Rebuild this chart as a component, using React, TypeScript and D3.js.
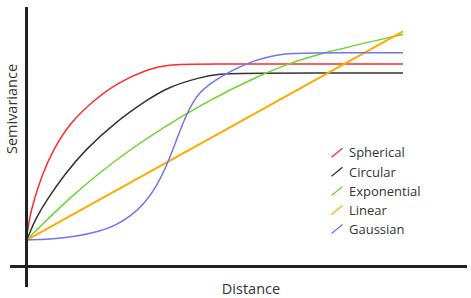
import React from "react";
import * as d3 from "d3";

type Pt = [number, number];

// distance (0–100) vs semivariance (0–100)
const spherical: Pt[] = [[0.2, 14], [0.6, 18.5], [1.86, 25.8], [3.99, 35.4], [6.91, 45], [11.44, 55.5], [17.82, 64.2], [23.94, 70.8], [32.71, 76.5], [38.03, 77.8], [42.55, 78.1], [100, 78.1]];
const circular: Pt[] = [[0, 10.4], [0.8, 13.5], [2.39, 18.8], [5.24, 25.8], [10.1, 35.8], [15.43, 45], [23.4, 55.6], [31.9, 64.2], [37.2, 69], [46, 73], [51.3, 74.3], [56.6, 74.6], [100, 74.6]];
const exponential: Pt[] = [[0, 10.4], [1, 12], [10.56, 25.8], [26.5, 45], [48.1, 64.2], [63.3, 74.6], [69.4, 78.1], [78.7, 82.4], [97.9, 88.8], [100, 89.4]];
const linear: Pt[] = [[0, 10.4], [100, 90.6]];
const gaussian: Pt[] = [[0, 10.4], [6.1, 10.7], [12.8, 11.6], [19.4, 13.7], [23.4, 15.9], [27.4, 19.4], [30.9, 23.9], [34, 29.9], [36.7, 37.5], [38.6, 44.4], [40.7, 52.5], [42.3, 58.1], [43.9, 62.9], [46, 67.3], [48.7, 70.4], [50.8, 72.5], [53.1, 74.4], [55.6, 76.3], [58.4, 78.1], [60.9, 79.5], [63.7, 80.7], [68.2, 81.9], [72.6, 82.4], [100, 82.4]];

const seriesNames = ["Spherical", "Circular", "Exponential", "Linear", "Gaussian"];
const seriesData = [spherical, circular, exponential, linear, gaussian];
const seriesColors = ["#ff2a2a", "#333333", "#6ad62a", "#ffaa00", "#7272f2"];
const seriesWidths = [1.5, 1.5, 1.5, 2, 1.5];

const xLabel = "Distance";
const yLabel = "Semivariance";

export default function App() {
  const W = 471, H = 298;
  const x = d3.scaleLinear().domain([0, 100]).range([27, 403]);
  const y = d3.scaleLinear().domain([0, 100]).range([267, 7]);
  const line = d3.line<Pt>().x(d => x(d[0])).y(d => y(d[1])).curve(d3.curveBasis);
  const font = "'Open Sans', 'Noto Sans', sans-serif";
  return (
    <svg width={W} height={H} style={{ position: "absolute", left: 0, top: 0 }} fontFamily={font}>
      <rect width={W} height={H} fill="#fff" />
      {seriesData.map((d, i) => (
        <path key={i} d={line(d) || ""} fill="none" stroke={seriesColors[i]} strokeWidth={seriesWidths[i]} />
      ))}
      <line x1={26.5} x2={26.5} y1={7} y2={287} stroke="#222" strokeWidth={3} />
      <line x1={10} x2={467} y1={266.5} y2={266.5} stroke="#222" strokeWidth={3} />
      <text x={251} y={294} textAnchor="middle" fontSize={14.5} fill="#333">{xLabel}</text>
      <text transform="translate(16.5,109) rotate(-90)" textAnchor="middle" fontSize={14.5} fill="#333">{yLabel}</text>
      {seriesNames.map((n, i) => {
        const cy = 152.7 + i * 19.1;
        return (
          <g key={n}>
            <line x1={331.5} y1={cy + 4.5} x2={342.5} y2={cy - 4.5} stroke={seriesColors[i]} strokeWidth={1.3} />
            <text x={349} y={cy + 4.7} fontSize={13} fill="#333">{n}</text>
          </g>
        );
      })}
    </svg>
  );
}
